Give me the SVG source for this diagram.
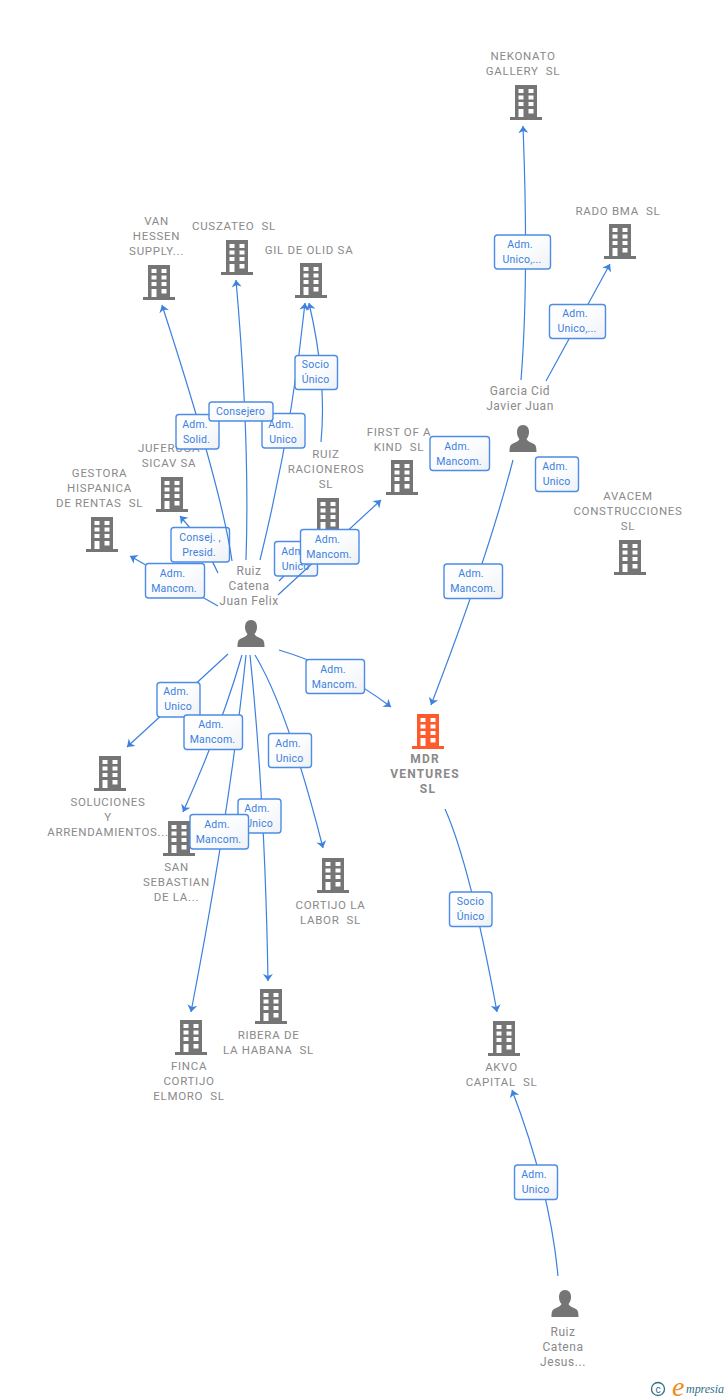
<svg xmlns="http://www.w3.org/2000/svg" width="728" height="1400" viewBox="0 0 728 1400">
<style>
text{font-family:Roboto,"Liberation Sans",Arial,sans-serif;white-space:pre}
.n{font-size:11.5px;fill:#8a8a8a;text-anchor:middle;letter-spacing:.7px}
.p{font-size:12px;fill:#8a8a8a;text-anchor:middle;letter-spacing:.55px}
.m{font-size:12px;font-weight:700;fill:#8a8a8a;text-anchor:middle;letter-spacing:1.2px}
.l{font-size:10.5px;fill:#3c80e0;text-anchor:middle;letter-spacing:.2px}
.c{fill:none;stroke:#3c80e0;stroke-width:1.2;marker-end:url(#a)}
.c0{fill:none;stroke:#3c80e0;stroke-width:1.2}
.b{fill:url(#g);stroke:#4c8ce6;stroke-width:1.4}
.bd{fill:#757575}.or{fill:#ff5a2b}
</style>
<defs>
<linearGradient id="g" x1="0" y1="0" x2="1" y2="1"><stop offset="0" stop-color="#fff"/><stop offset=".5" stop-color="#fbfcfd"/><stop offset="1" stop-color="#eef1f5"/></linearGradient>
<marker id="a" markerUnits="userSpaceOnUse" markerWidth="12" markerHeight="12" refX="8" refY="6" orient="auto"><path d="M1 1L8 6L1 11L3 6z" fill="#3c80e0"/></marker>
<path id="bl" fill-rule="evenodd" d="M-11 0H11V32H16V35H-16V32H-11ZM-7.500 4V8H-2.500V4ZM2.500 4V8H7.500V4ZM-7.500 10.500V14.500H-2.500V10.500ZM2.500 10.500V14.500H7.500V10.500ZM-7.500 17V21H-2.500V17ZM2.500 17V21H7.500V17ZM-7.500 24V32H-2.500V24ZM2.500 24V28.500H7.500V24Z"/>
<path id="pe" d="M0 0C4 0 6 3 6 7C6 10 5 12.500 3.500 14C4 16 7 17 10 18.500C12.500 19.500 13.500 21 13.500 27H-13.500C-13.500 21 -12.500 19.500 -10 18.500C-7 17 -4 16 -3.500 14C-5 12.500 -6 10 -6 7C-6 3 -4 0 0 0Z"/>
</defs>
<rect width="728" height="1400" fill="#fff"/>
<g id="nodes">
<g id="n-nekonato"><use href="#bl" class="bd" x="526" y="85"/><text class="n"><tspan x="523" y="60">NEKONATO</tspan><tspan x="523" y="75">GALLERY  SL</tspan></text></g>
<g id="n-rado"><use href="#bl" class="bd" x="620" y="224"/><text class="n"><tspan x="618" y="215">RADO BMA  SL</tspan></text></g>
<g id="n-van"><use href="#bl" class="bd" x="159" y="265"/><text class="n"><tspan x="156.500" y="225">VAN</tspan><tspan x="156.500" y="240">HESSEN</tspan><tspan x="156.500" y="255">SUPPLY...</tspan></text></g>
<g id="n-cuszateo"><use href="#bl" class="bd" x="237" y="240"/><text class="n"><tspan x="234" y="230">CUSZATEO  SL</tspan></text></g>
<g id="n-gil"><use href="#bl" class="bd" x="311" y="263"/><text class="n"><tspan x="309" y="254">GIL DE OLID SA</tspan></text></g>
<g id="n-juferuga"><use href="#bl" class="bd" x="172" y="477"/><text class="n"><tspan x="169" y="452">JUFERUGA</tspan><tspan x="169" y="467">SICAV SA</tspan></text></g>
<g id="n-gestora"><use href="#bl" class="bd" x="102" y="517"/><text class="n"><tspan x="99.500" y="477">GESTORA</tspan><tspan x="99.500" y="492">HISPANICA</tspan><tspan x="99.500" y="507">DE RENTAS  SL</tspan></text></g>
<g id="n-racioneros"><use href="#bl" class="bd" x="328" y="498"/><text class="n"><tspan x="326" y="458">RUIZ</tspan><tspan x="326" y="473">RACIONEROS</tspan><tspan x="326" y="488">SL</tspan></text></g>
<g id="n-first"><use href="#bl" class="bd" x="402" y="460"/><text class="n"><tspan x="399" y="436">FIRST OF A</tspan><tspan x="399" y="451">KIND  SL</tspan></text></g>
<g id="n-avacem"><use href="#bl" class="bd" x="630" y="540"/><text class="n"><tspan x="628" y="500">AVACEM</tspan><tspan x="628" y="515">CONSTRUCCIONES</tspan><tspan x="628" y="530">SL</tspan></text></g>
<g id="n-mdr"><use href="#bl" class="or" x="428" y="714"/><text class="m"><tspan x="425" y="763">MDR</tspan><tspan x="425" y="778">VENTURES</tspan><tspan x="428" y="793">SL</tspan></text></g>
<g id="n-soluciones"><use href="#bl" class="bd" x="110" y="756"/><text class="n"><tspan x="108" y="806">SOLUCIONES</tspan><tspan x="108" y="821">Y</tspan><tspan x="108" y="836">ARRENDAMIENTOS...</tspan></text></g>
<g id="n-sanseb"><use href="#bl" class="bd" x="179" y="821"/><text class="n"><tspan x="176.500" y="871">SAN</tspan><tspan x="176.500" y="886">SEBASTIAN</tspan><tspan x="176.500" y="901">DE LA...</tspan></text></g>
<g id="n-cortijo"><use href="#bl" class="bd" x="333" y="858"/><text class="n"><tspan x="330.500" y="909">CORTIJO LA</tspan><tspan x="330.500" y="924">LABOR  SL</tspan></text></g>
<g id="n-finca"><use href="#bl" class="bd" x="191" y="1020"/><text class="n"><tspan x="189" y="1070">FINCA</tspan><tspan x="189" y="1085">CORTIJO</tspan><tspan x="189" y="1100">ELMORO  SL</tspan></text></g>
<g id="n-ribera"><use href="#bl" class="bd" x="271" y="989"/><text class="n"><tspan x="268.500" y="1039">RIBERA DE</tspan><tspan x="268.500" y="1054">LA HABANA  SL</tspan></text></g>
<g id="n-akvo"><use href="#bl" class="bd" x="504" y="1021"/><text class="n"><tspan x="501.500" y="1071">AKVO</tspan><tspan x="501.500" y="1086">CAPITAL  SL</tspan></text></g>
<g id="n-garcia"><use href="#pe" class="bd" x="523" y="425"/><text class="p"><tspan x="520" y="395">Garcia Cid</tspan><tspan x="520" y="410">Javier Juan</tspan></text></g>
<g id="n-ruizjf"><use href="#pe" class="bd" x="251" y="620"/><text class="p"><tspan x="249" y="575">Ruiz</tspan><tspan x="249" y="590">Catena</tspan><tspan x="249" y="605">Juan Felix</tspan></text></g>
<g id="n-ruizj"><use href="#pe" class="bd" x="565" y="1290"/><text class="p"><tspan x="563" y="1336">Ruiz</tspan><tspan x="563" y="1351">Catena</tspan><tspan x="563" y="1366">Jesus...</tspan></text></g>
</g>
<g id="connectors">
<path class="c" d="M521 380Q529 280 523 126"/>
<rect class="b" x="494.500" y="235" width="56" height="34" rx="3"/><text class="l"><tspan x="520" y="248">Adm.</tspan><tspan x="522" y="263">Unico,...</tspan></text>
<path class="c" d="M546 381L610 264"/>
<rect class="b" x="549.500" y="304.500" width="56" height="34" rx="3"/><text class="l"><tspan x="575" y="317">Adm.</tspan><tspan x="577" y="332">Unico,...</tspan></text>
<path class="c" d="M513 460Q487 560 431 705"/>
<rect class="b" x="444" y="564" width="58.500" height="34.500" rx="3"/><text class="l"><tspan x="471" y="577">Adm.</tspan><tspan x="473" y="592">Mancom.</tspan></text>
<path class="c" d="M445 809Q470 865 497 1012"/>
<rect class="b" x="449.500" y="892" width="42.500" height="34.500" rx="3"/><text class="l"><tspan x="470.500" y="905">Socio</tspan><tspan x="470.500" y="920">Único</tspan></text>
<path class="c" d="M558 1276Q550 1190 512 1090"/>
<rect class="b" x="514.500" y="1165" width="43" height="34.500" rx="3"/><text class="l"><tspan x="534" y="1178">Adm.</tspan><tspan x="535.500" y="1193">Unico</tspan></text>
<rect class="b" x="430" y="436.500" width="59.500" height="34" rx="3"/><text class="l"><tspan x="457" y="450">Adm.</tspan><tspan x="459" y="465">Mancom.</tspan></text>
<rect class="b" x="535.500" y="457" width="43" height="34.500" rx="3"/><text class="l"><tspan x="555" y="470">Adm.</tspan><tspan x="556.500" y="485">Unico</tspan></text>
<path class="c" d="M218 573Q206 545 180 516"/>
<rect class="b" x="171" y="527.500" width="58.500" height="34.500" rx="3"/><text class="l"><tspan x="200" y="541">Consej. ,</tspan><tspan x="199" y="556">Presid.</tspan></text>
<path class="c" d="M232 561Q222 490 162 305"/>
<rect class="b" x="176" y="414.500" width="43" height="34.500" rx="3"/><text class="l"><tspan x="195" y="428">Adm.</tspan><tspan x="196.500" y="443">Solid.</tspan></text>
<path class="c" d="M260 560Q292 430 305 303"/>
<rect class="b" x="262" y="413.500" width="43" height="34.500" rx="3"/><text class="l"><tspan x="281" y="428">Adm.</tspan><tspan x="283" y="443">Unico</tspan></text>
<path class="c" d="M246 560Q250 440 236 280"/>
<rect class="b" x="209" y="402" width="64" height="19" rx="3"/><text class="l"><tspan x="240.500" y="415">Consejero</tspan></text>
<path class="c" d="M321 442Q327 380 309 303"/>
<rect class="b" x="295" y="355.500" width="42.500" height="34" rx="3"/><text class="l"><tspan x="315.500" y="368">Socio</tspan><tspan x="315.500" y="383">Único</tspan></text>
<path class="c" d="M218 606L130 556"/>
<rect class="b" x="145.500" y="563.500" width="59" height="34.500" rx="3"/><text class="l"><tspan x="172.500" y="577">Adm.</tspan><tspan x="174" y="592">Mancom.</tspan></text>
<path class="c0" d="M279 581L300 560"/>
<rect class="b" x="274.500" y="541.500" width="43" height="34.500" rx="3"/><text class="l"><tspan x="294" y="555">Adm.</tspan><tspan x="295.500" y="570">Unico</tspan></text>
<path class="c" d="M278 595L381 500"/>
<rect class="b" x="300.500" y="529.500" width="58.500" height="34.500" rx="3"/><text class="l"><tspan x="327.500" y="543">Adm.</tspan><tspan x="329" y="558">Mancom.</tspan></text>
<path class="c" d="M228 654L127 747"/>
<rect class="b" x="157" y="682.500" width="43" height="34.500" rx="3"/><text class="l"><tspan x="176" y="695">Adm.</tspan><tspan x="178" y="710">Unico</tspan></text>
<path class="c" d="M242 655Q222 725 183 812"/>
<path class="c" d="M246 655Q230 810 191 1012"/>
<rect class="b" x="184" y="715" width="58.500" height="34.500" rx="3"/><text class="l"><tspan x="211" y="728">Adm.</tspan><tspan x="212.500" y="743">Mancom.</tspan></text>
<path class="c" d="M250 655Q265 800 268 981"/>
<rect class="b" x="238" y="799" width="43" height="34" rx="3"/><text class="l"><tspan x="257" y="812">Adm.</tspan><tspan x="259" y="827">Unico</tspan></text>
<rect class="b" x="190" y="814.500" width="58.500" height="34.500" rx="3"/><text class="l"><tspan x="217" y="828">Adm.</tspan><tspan x="218.500" y="843">Mancom.</tspan></text>
<path class="c" d="M255 655Q288 710 323 848"/>
<rect class="b" x="268.500" y="733.500" width="43" height="34" rx="3"/><text class="l"><tspan x="288" y="747">Adm.</tspan><tspan x="289.500" y="762">Unico</tspan></text>
<path class="c" d="M279 650Q340 668 391 707"/>
<rect class="b" x="306" y="659.500" width="58.500" height="34" rx="3"/><text class="l"><tspan x="333" y="673">Adm.</tspan><tspan x="334.500" y="688">Mancom.</tspan></text>
</g>
<g id="logo">
<circle cx="658" cy="1389" r="6.500" fill="none" stroke="#2f6f86" stroke-width="1.300"/>
<text x="658" y="1392.500" font-size="10" fill="#2f6f86" text-anchor="middle">c</text>
<text x="672" y="1396" font-size="28" font-style="italic" fill="#f28a1e" style="font-family:'Liberation Serif',serif">e</text>
<text x="686" y="1393" font-size="12" font-style="italic" fill="#2f6f86" textLength="38" style="font-family:'Liberation Serif',serif">mpresia</text>
</g>
</svg>
